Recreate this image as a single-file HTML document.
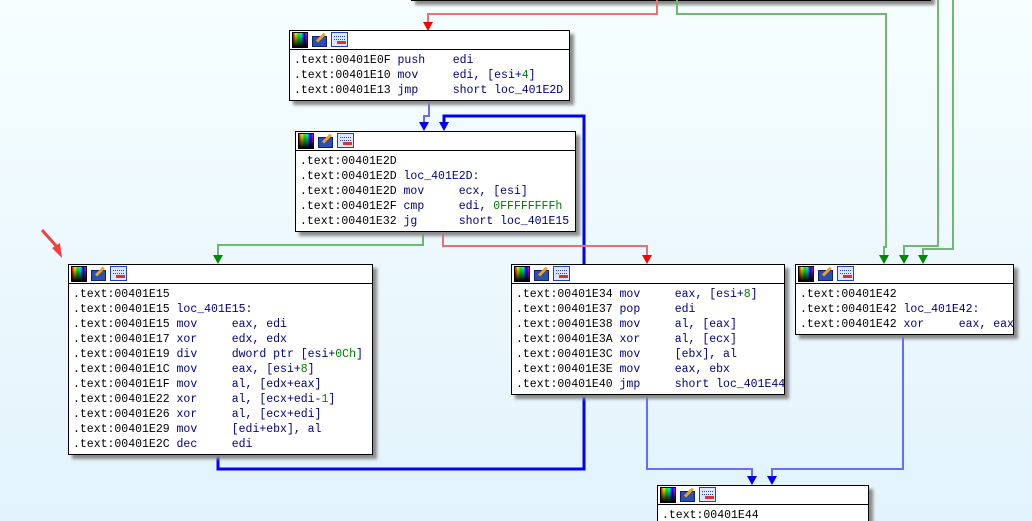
<!DOCTYPE html>
<html style="overflow:hidden;height:521px"><head><style>
body{margin:0;width:1032px;height:521px;overflow:hidden;background:linear-gradient(#f6feff,#e2f3fc);position:relative;font-family:"Liberation Mono",monospace;}
.b{position:absolute;background:#fff;border:1px solid #000;box-shadow:4px 4px 3px #8a8a8a;box-sizing:border-box;overflow:hidden}
.h{height:18px;border-bottom:1px solid #000;position:relative;}
.i{position:absolute;top:1px;width:16px;height:16px;box-sizing:border-box}
.i1{left:2px;background:linear-gradient(90deg,#f00,#ff0,#0f0,#0ff,#00f,#f0f);border:1px solid #000;}
.i1::after{content:"";position:absolute;inset:0;background:linear-gradient(transparent,#000)}
.i2{left:22px;background:#2a4fb0;border:1px solid #0a2070;height:11px;top:5px;width:15px}
.i2::after{content:"";position:absolute;left:4px;top:3px;width:11px;height:3px;background:#f0a020;transform:rotate(-45deg);transform-origin:left}
.i3{left:41px;background:#dde8ff;border:1px solid #2040c0;width:17px;height:15px}
.i3::before{content:"";position:absolute;left:2px;top:3px;width:11px;height:2px;border-top:1px dotted #2040c0;border-bottom:1px dotted #2040c0}
.i3::after{content:"";position:absolute;left:5px;top:8px;width:9px;height:3px;background:#e03030}
.t{font-size:11.5px;line-height:15px;padding:3px 0 0 4px;white-space:pre;color:#000;}
.m{color:#000080}.n{color:#008000}
svg{position:absolute;left:0;top:0}
</style></head><body>
<div class="b" style="left:411px;top:-30px;width:520px;height:31px"></div>
<svg width="1032" height="521">
<g fill="none" stroke-width="2">
<path d="M657 0V14H428V24" stroke="#f07070"/>
<path d="M677 0V14H886V247H884V256" stroke="#70b870"/>
<path d="M938 0V246H904V256" stroke="#70b870"/>
<path d="M953 0V249H923V256" stroke="#70b870"/>
<path d="M429 100V116H424V124" stroke="#6a6aff"/>
<path d="M218 454V469H584V116H444V124" stroke="#0000ff" stroke-width="3"/>
<path d="M423 231V245H218V256" stroke="#70b870"/>
<path d="M443 231V246H647V256" stroke="#f07070"/>
<path d="M647 394V469H752V478" stroke="#6a6aff"/>
<path d="M903 334V469H772V478" stroke="#6a6aff"/>
</g>
<g>
<path d="M423 22h10l-5 9z" fill="#f00"/>
<path d="M419 122h10l-5 9z" fill="#00f"/>
<path d="M439 122h10l-5 9z" fill="#00f"/>
<path d="M213 255h10l-5 9z" fill="#080"/>
<path d="M642 255h10l-5 9z" fill="#f00"/>
<path d="M879 255h10l-5 9z" fill="#080"/>
<path d="M899 255h10l-5 9z" fill="#080"/>
<path d="M918 255h10l-5 9z" fill="#080"/>
<path d="M747 476h10l-5 9z" fill="#00f"/>
<path d="M767 476h10l-5 9z" fill="#00f"/>
<path d="M42 230L58 248" stroke="#f04040" stroke-width="3"/>
<path d="M62 258L52 248L60 243z" fill="#f04040"/>
</g>
</svg>
<div class="b" style="left:289px;top:30px;width:281px;height:71px"><div class="h"><i class="i i1"></i><i class="i i2"></i><i class="i i3"></i></div><div class="t">.text:00401E0F <span class="m">push    edi</span>
.text:00401E10 <span class="m">mov     edi, [esi+<span class="n">4</span>]</span>
.text:00401E13 <span class="m">jmp     short loc_401E2D</span></div></div>
<div class="b" style="left:295px;top:131px;width:281px;height:101px"><div class="h"><i class="i i1"></i><i class="i i2"></i><i class="i i3"></i></div><div class="t">.text:00401E2D
.text:00401E2D <span class="m">loc_401E2D:</span>
.text:00401E2D <span class="m">mov     ecx, [esi]</span>
.text:00401E2F <span class="m">cmp     edi, <span class="n">0FFFFFFFFh</span></span>
.text:00401E32 <span class="m">jg      short loc_401E15</span></div></div>
<div class="b" style="left:68px;top:264px;width:305px;height:191px"><div class="h"><i class="i i1"></i><i class="i i2"></i><i class="i i3"></i></div><div class="t">.text:00401E15
.text:00401E15 <span class="m">loc_401E15:</span>
.text:00401E15 <span class="m">mov     eax, edi</span>
.text:00401E17 <span class="m">xor     edx, edx</span>
.text:00401E19 <span class="m">div     dword ptr [esi+<span class="n">0Ch</span>]</span>
.text:00401E1C <span class="m">mov     eax, [esi+<span class="n">8</span>]</span>
.text:00401E1F <span class="m">mov     al, [edx+eax]</span>
.text:00401E22 <span class="m">xor     al, [ecx+edi-<span class="n">1</span>]</span>
.text:00401E26 <span class="m">xor     al, [ecx+edi]</span>
.text:00401E29 <span class="m">mov     [edi+ebx], al</span>
.text:00401E2C <span class="m">dec     edi</span></div></div>
<div class="b" style="left:511px;top:264px;width:274px;height:131px"><div class="h"><i class="i i1"></i><i class="i i2"></i><i class="i i3"></i></div><div class="t">.text:00401E34 <span class="m">mov     eax, [esi+<span class="n">8</span>]</span>
.text:00401E37 <span class="m">pop     edi</span>
.text:00401E38 <span class="m">mov     al, [eax]</span>
.text:00401E3A <span class="m">xor     al, [ecx]</span>
.text:00401E3C <span class="m">mov     [ebx], al</span>
.text:00401E3E <span class="m">mov     eax, ebx</span>
.text:00401E40 <span class="m">jmp     short loc_401E44</span></div></div>
<div class="b" style="left:795px;top:264px;width:219px;height:71px"><div class="h"><i class="i i1"></i><i class="i i2"></i><i class="i i3"></i></div><div class="t">.text:00401E42
.text:00401E42 <span class="m">loc_401E42:</span>
.text:00401E42 <span class="m">xor     eax, eax</span></div></div>
<div class="b" style="left:657px;top:485px;width:212px;height:40px"><div class="h"><i class="i i1"></i><i class="i i2"></i><i class="i i3"></i></div><div class="t">.text:00401E44</div></div>
</body></html>
